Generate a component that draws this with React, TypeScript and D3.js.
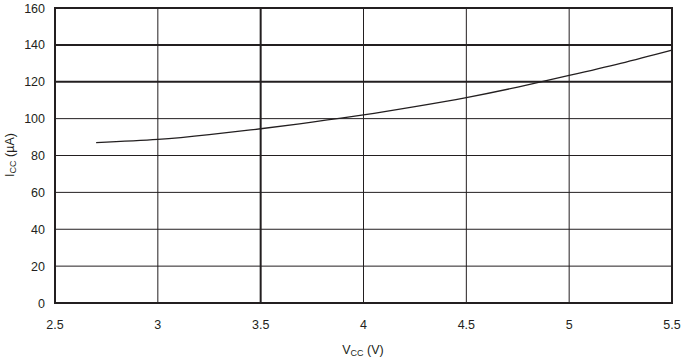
import React from "react";
import * as d3 from "d3";

const vcc = [2.7, 3.0, 3.25, 3.5, 3.75, 4.0, 4.25, 4.5, 4.75, 5.0, 5.25, 5.5];
const icc = [87, 88.7, 91.3, 94.5, 98.1, 102, 106.5, 111.4, 117.1, 123.4, 130, 137.2];
const xTicks = [2.5, 3, 3.5, 4, 4.5, 5, 5.5];
const yTicks = [0, 20, 40, 60, 80, 100, 120, 140, 160];
const thickY = [120, 140];
const thickX = [3.5];

export default function App() {
  const W = 685, H = 358;
  const left = 55, right = 672, top = 8, bottom = 303;
  const x = d3.scaleLinear().domain([2.5, 5.5]).range([left, right]);
  const y = d3.scaleLinear().domain([0, 160]).range([bottom, top]);
  const line = d3.line<number>().x((d, i) => x(vcc[i])).y((d) => y(d)).curve(d3.curveNatural);
  const c = "#231f20";
  const font = "Liberation Sans, Arial, sans-serif";
  return (
    <svg width={W} height={H} style={{ position: "absolute", left: 0, top: 0 }}>
      <rect width={W} height={H} fill="#fff" />
      {yTicks.slice(1, -1).map((t) => (
        <line key={"gy" + t} x1={left} x2={right} y1={y(t)} y2={y(t)} stroke={c}
          strokeWidth={thickY.includes(t) ? 2 : 1} />
      ))}
      {xTicks.slice(1, -1).map((t) => (
        <line key={"gx" + t} x1={x(t)} x2={x(t)} y1={top} y2={bottom} stroke={c}
          strokeWidth={thickX.includes(t) ? 2 : 1} />
      ))}
      <rect x={left} y={top} width={right - left} height={bottom - top} fill="none" stroke={c} strokeWidth={2} />
      <path d={line(icc) || ""} fill="none" stroke={c} strokeWidth={1.3} />
      {yTicks.map((t) => (
        <text key={"ty" + t} x={45} y={y(t) + 4.5} textAnchor="end" fontFamily={font} fontSize={12.5} fill={c}>{t}</text>
      ))}
      {xTicks.map((t) => (
        <text key={"tx" + t} x={x(t)} y={329} textAnchor="middle" fontFamily={font} fontSize={12.5} fill={c}>{t}</text>
      ))}
      <text x={363} y={354} textAnchor="middle" fontFamily={font} fontSize={12.5} fill={c}>
        V<tspan fontSize={9} dy={2}>CC</tspan><tspan dy={-2}> (V)</tspan>
      </text>
      <text transform={`translate(14,${155}) rotate(-90)`} textAnchor="middle" fontFamily={font} fontSize={12.5} fill={c}>
        I<tspan fontSize={9} dy={2}>CC</tspan><tspan dy={-2}> (µA)</tspan>
      </text>
    </svg>
  );
}
